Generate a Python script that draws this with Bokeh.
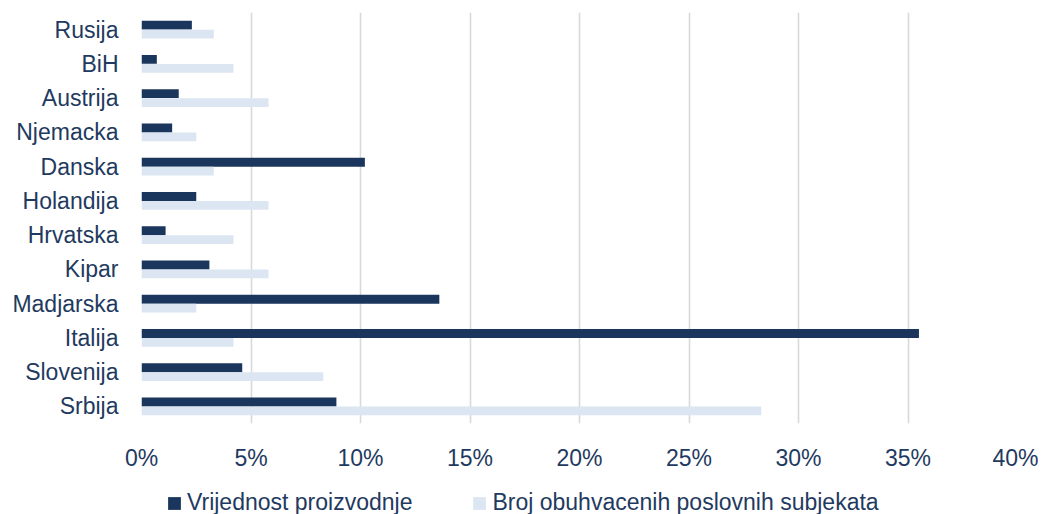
from bokeh.plotting import figure
from bokeh.layouts import column
from bokeh.models import (ColumnDataSource, FactorRange, Range1d, FixedTicker,
                          PrintfTickFormatter, Legend, LegendItem)
from bokeh.transform import dodge
from bokeh.embed import file_html
from bokeh.resources import INLINE

countries = ["Rusija", "BiH", "Austrija", "Njemacka", "Danska", "Holandija",
             "Hrvatska", "Kipar", "Madjarska", "Italija", "Slovenija", "Srbija"]
vrijednost = [2.3, 0.7, 1.7, 1.4, 10.2, 2.5, 1.1, 3.1, 13.6, 35.5, 4.6, 8.9]
broj = [3.3, 4.2, 5.8, 2.5, 3.3, 5.8, 4.2, 5.8, 2.5, 4.2, 8.3, 28.3]
x_ticks = [0, 5, 10, 15, 20, 25, 30, 35, 40]
series_names = ["Vrijednost proizvodnje", "Broj obuhvacenih poslovnih subjekata"]

DARK = "#1B365D"
LIGHT = "#DCE6F2"
TEXT = "#1F3A60"
FONT = "Liberation Sans"
FS = "23px"

source = ColumnDataSource(dict(country=countries, v=vrijednost, b=broj))

p = figure(width=1038, height=473, output_backend="svg", toolbar_location=None,
           y_range=FactorRange(factors=list(reversed(countries))),
           x_range=Range1d(0, 40),
           min_border_left=141, min_border_right=21,
           min_border_top=12, min_border_bottom=46)

p.hbar(y=dodge("country", 0.13, range=p.y_range), right="v", left=0, height=0.26,
       source=source, fill_color=DARK, line_color=None)
p.hbar(y=dodge("country", -0.13, range=p.y_range), right="b", left=0, height=0.26,
       source=source, fill_color=LIGHT, line_color=None)

p.outline_line_color = None
p.background_fill_color = "white"
p.border_fill_color = "white"

p.xaxis.ticker = FixedTicker(ticks=x_ticks)
p.xaxis.formatter = PrintfTickFormatter(format="%d%%")
for ax in (p.xaxis, p.yaxis):
    ax.axis_line_color = None
    ax.major_tick_line_color = None
    ax.minor_tick_line_color = None
    ax.major_label_text_font = FONT
    ax.major_label_text_font_size = FS
    ax.major_label_text_color = TEXT
p.xaxis.major_label_standoff = 15
p.yaxis.major_label_standoff = 17

p.xgrid.grid_line_color = "#D9D9D9"
p.xgrid.grid_line_width = 1.6
p.ygrid.grid_line_color = None

# legend strip below the chart (glyphs only serve as legend swatches)
leg = figure(width=1038, height=41, output_backend="svg", toolbar_location=None,
             x_axis_location=None, y_axis_location=None,
             x_range=Range1d(0, 1), y_range=Range1d(0, 1),
             min_border_left=141, min_border_right=21,
             min_border_top=0, min_border_bottom=0)
leg.outline_line_color = None
leg.grid.grid_line_color = None
leg.background_fill_color = "white"
leg.border_fill_color = "white"
swatch = ColumnDataSource(dict(y=[float("nan")], right=[float("nan")]))
l1 = leg.hbar(y="y", right="right", height=0.5, source=swatch, fill_color=DARK, line_color=None)
l2 = leg.hbar(y="y", right="right", height=0.5, source=swatch, fill_color=LIGHT, line_color=None)

legend = Legend(items=[LegendItem(label=series_names[0], renderers=[l1]),
                       LegendItem(label=series_names[1], renderers=[l2])],
                orientation="horizontal", location=(25, -2),
                glyph_width=16, glyph_height=16, label_standoff=5, spacing=59,
                padding=0, margin=0, border_line_color=None,
                background_fill_alpha=0,
                label_text_font=FONT, label_text_font_size=FS, label_text_color=TEXT)
leg.add_layout(legend, "center")

layout = column(p, leg, spacing=0)
open("out.html", "w").write(file_html(layout, INLINE))
